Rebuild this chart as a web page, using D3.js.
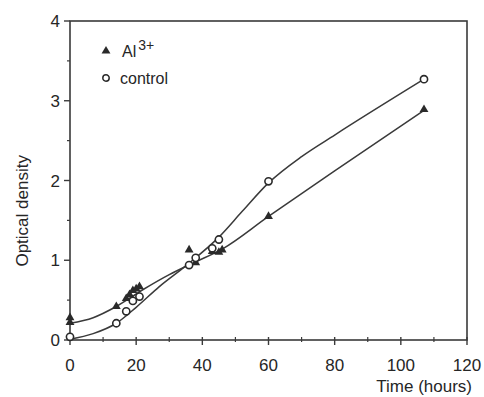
<!DOCTYPE html>
<html>
<head>
<meta charset="utf-8">
<script src="https://cdn.jsdelivr.net/npm/d3@7"></script>
<style>
  body { margin: 0; background: #fff; }
  svg text { font-family: "Liberation Sans", Arial, sans-serif; fill: #262626; }
</style>
</head>
<body>
<div id="chart"></div>
<script>
// measured points (hours, optical density)
const alHours = [0, 0, 14, 17, 18, 19, 20, 21, 36, 38, 43, 45, 46, 60, 107];
const alOD = [0.28, 0.22, 0.42, 0.52, 0.57, 0.62, 0.64, 0.67, 1.13, 0.97, 1.11, 1.1, 1.13, 1.55, 2.89];

const ctrlHours = [0, 14, 17, 19, 21, 36, 38, 43, 45, 60, 107];
const ctrlOD = [0.04, 0.21, 0.36, 0.49, 0.545, 0.94, 1.03, 1.15, 1.26, 1.99, 3.27];

// fitted curves as drawn in the figure
const alFitHours = [0, 7, 14, 22, 30, 38, 46, 60, 80, 107];
const alFitOD = [0.21, 0.28, 0.42, 0.63, 0.82, 0.98, 1.14, 1.55, 2.12, 2.88];

const ctrlFitHours = [0, 7, 14, 20, 27, 35, 45, 52, 60, 70, 80, 107];
const ctrlFitOD = [0.01, 0.08, 0.21, 0.41, 0.67, 0.93, 1.29, 1.61, 1.97, 2.3, 2.57, 3.27];

const xTicks = [0, 20, 40, 60, 80, 100, 120];
const yTicks = [0, 1, 2, 3, 4];

const W = 484, H = 397;
const margin = { top: 21, right: 17, bottom: 57, left: 70 };
const width = W - margin.left - margin.right;
const height = H - margin.top - margin.bottom;
const ink = '#3a3a3a';

const svg = d3.select('#chart').append('svg')
  .attr('width', W).attr('height', H);
const g = svg.append('g').attr('transform', `translate(${margin.left},${margin.top})`);

const x = d3.scaleLinear().domain([0, 120]).range([0, width]);
const y = d3.scaleLinear().domain([0, 4]).range([height, 0]);

// frame
g.append('rect')
  .attr('width', width).attr('height', height)
  .attr('fill', 'none').attr('stroke', ink).attr('stroke-width', 1.6);

// x axis ticks
g.selectAll('.xmaj').data(xTicks).join('line')
  .attr('x1', d => x(d)).attr('x2', d => x(d))
  .attr('y1', height - 3).attr('y2', height + 5)
  .attr('stroke', ink).attr('stroke-width', 1.4);
g.selectAll('.xmin').data(d3.range(10, 120, 20)).join('line')
  .attr('x1', d => x(d)).attr('x2', d => x(d))
  .attr('y1', height - 3).attr('y2', height + 2)
  .attr('stroke', ink).attr('stroke-width', 1.2);
g.selectAll('.xlab').data(xTicks).join('text')
  .attr('x', d => x(d)).attr('y', height + 31)
  .attr('text-anchor', 'middle')
  .style('font-size', '17px')
  .text(d => d);

// y axis ticks
g.selectAll('.ymaj').data(yTicks).join('line')
  .attr('x1', -6).attr('x2', 0)
  .attr('y1', d => y(d)).attr('y2', d => y(d))
  .attr('stroke', ink).attr('stroke-width', 1.4);
g.selectAll('.ymin').data([0.5, 1.5, 2.5, 3.5]).join('line')
  .attr('x1', -3).attr('x2', 0)
  .attr('y1', d => y(d)).attr('y2', d => y(d))
  .attr('stroke', ink).attr('stroke-width', 1.2);
g.selectAll('.ylab').data(yTicks).join('text')
  .attr('x', -10).attr('y', d => y(d) + 6)
  .attr('text-anchor', 'end')
  .style('font-size', '17px')
  .text(d => d);

// axis titles
g.append('text')
  .attr('x', width + 5).attr('y', height + 52)
  .attr('text-anchor', 'end')
  .style('font-size', '17px')
  .text('Time (hours)');
g.append('text')
  .attr('transform', `translate(-42,${y(1.62)}) rotate(-90)`)
  .attr('text-anchor', 'middle')
  .style('font-size', '17px')
  .text('Optical density');

// fitted curves
const line = d3.line().curve(d3.curveMonotoneX)
  .x(d => x(d[0])).y(d => y(d[1]));
g.append('path')
  .datum(d3.zip(alFitHours, alFitOD))
  .attr('fill', 'none').attr('stroke', ink).attr('stroke-width', 1.5)
  .attr('d', line);
g.append('path')
  .datum(d3.zip(ctrlFitHours, ctrlFitOD))
  .attr('fill', 'none').attr('stroke', ink).attr('stroke-width', 1.5)
  .attr('d', line);

// markers
const tri = d3.symbol().type(d3.symbolTriangle).size(34);
g.selectAll('.al').data(d3.zip(alHours, alOD)).join('path')
  .attr('transform', d => `translate(${x(d[0])},${y(d[1])})`)
  .attr('d', tri)
  .attr('fill', '#2a2a2a');
g.selectAll('.ctrl').data(d3.zip(ctrlHours, ctrlOD)).join('circle')
  .attr('cx', d => x(d[0])).attr('cy', d => y(d[1]))
  .attr('r', 3.6)
  .attr('fill', '#fff').attr('stroke', '#2a2a2a').attr('stroke-width', 1.6);

// legend
const lg = g.append('g').attr('transform', 'translate(36,30)');
lg.append('path').attr('d', tri).attr('fill', '#2a2a2a');
const alText = lg.append('text').attr('x', 16).attr('y', 6).style('font-size', '16px');
alText.append('tspan').text('Al');
alText.append('tspan').attr('dy', -7).attr('dx', 2).style('font-size', '14px').text('3+');
lg.append('circle').attr('cx', 0).attr('cy', 27).attr('r', 3.2)
  .attr('fill', '#fff').attr('stroke', '#2a2a2a').attr('stroke-width', 1.5);
lg.append('text').attr('x', 14).attr('y', 33).style('font-size', '16px').text('control');
</script>
</body>
</html>
